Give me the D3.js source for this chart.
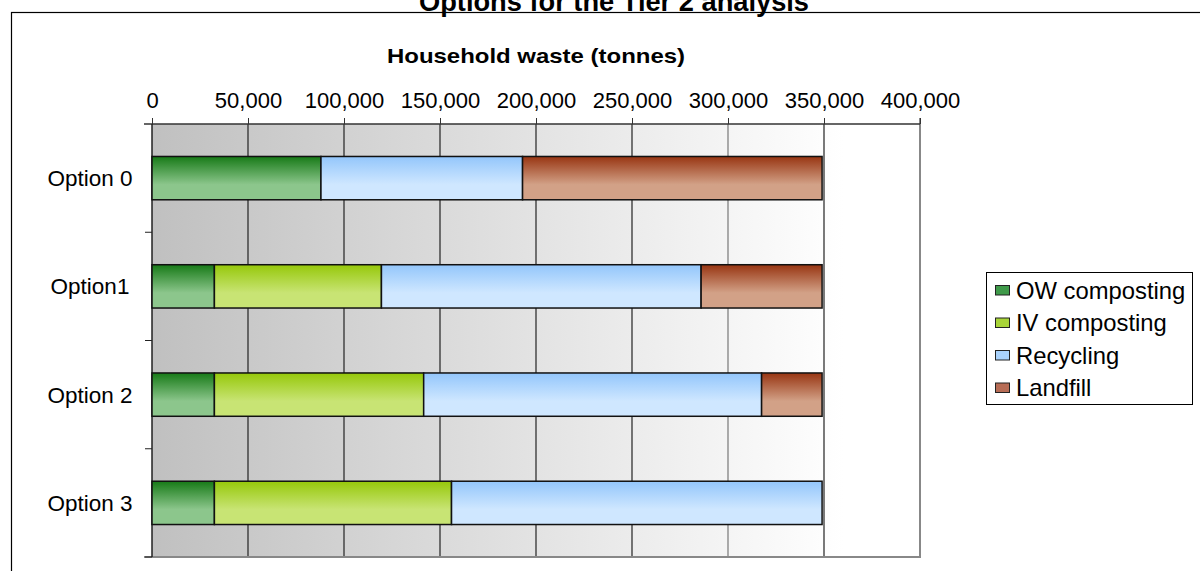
<!DOCTYPE html>
<html><head><meta charset="utf-8">
<script src="https://cdn.jsdelivr.net/npm/d3@7"></script>
<style>body{margin:0;background:#fff}svg{display:block;font-family:"Liberation Sans",Arial,sans-serif}</style>
</head><body>
<svg id="c" width="1200" height="571"></svg>
<script>
const categories = ["Option 0", "Option1", "Option 2", "Option 3"];
const seriesNames = ["OW composting", "IV composting", "Recycling", "Landfill"];
const owComposting = [88000, 32500, 32500, 32500];
const ivComposting = [0, 87000, 109000, 123500];
const recycling = [105000, 166500, 176000, 193000];
const landfill = [156000, 63000, 31500, 0];
const xTicks = [0, 50000, 100000, 150000, 200000, 250000, 300000, 350000, 400000];
const title = "Options for the Tier 2 analysis";
const axisTitle = "Household waste (tonnes)";

const colors = [
  {top:"#177a17", bot:"#8cc68c", sw:"#3f9a4a"},
  {top:"#96c80a", bot:"#c8e474", sw:"#a8d438"},
  {top:"#93c6fb", bot:"#cfe7ff", sw:"#a9d2fc"},
  {top:"#983512", bot:"#d2a187", sw:"#b76c55"}
];

const svg = d3.select("#c");
const defs = svg.append("defs");
const L = 152, R = 920, T = 124, B = 557;

const bg = defs.append("linearGradient").attr("id","bg").attr("x1",0).attr("x2",1).attr("y1",0).attr("y2",0);
bg.append("stop").attr("offset","0%").attr("stop-color","#c0c0c0");
bg.append("stop").attr("offset","90%").attr("stop-color","#ffffff");
colors.forEach((c,i)=>{
  const g = defs.append("linearGradient").attr("id","g"+i).attr("x1",0).attr("x2",0).attr("y1",0).attr("y2",1);
  g.append("stop").attr("offset","0%").attr("stop-color",c.top);
  g.append("stop").attr("offset","65%").attr("stop-color",c.bot);
  g.append("stop").attr("offset","100%").attr("stop-color",c.bot);
});

// outer frame
svg.append("rect").attr("x",11.5).attr("y",12.5).attr("width",1250).attr("height",600)
  .attr("fill","none").attr("stroke","#000").attr("stroke-width",1.2);
svg.append("text").attr("x",614).attr("y",11).attr("text-anchor","middle")
  .attr("font-size",27).attr("font-weight","bold")
  .attr("textLength",390).attr("lengthAdjust","spacingAndGlyphs").text(title);

const x = d3.scaleLinear().domain([0,400000]).range([L,R]);
const y = d3.scaleBand().domain(categories).range([T,B]).paddingInner(0.6).paddingOuter(0.3);
const yb = d3.scaleBand().domain(categories).range([T,B]);

svg.append("rect").attr("x",L).attr("y",T).attr("width",R-L).attr("height",B-T).attr("fill","url(#bg)");
// gridlines
svg.append("g").selectAll("line").data(xTicks.slice(1,-1)).join("line")
  .attr("x1",d=>x(d)).attr("x2",d=>x(d)).attr("y1",T).attr("y2",B)
  .attr("stroke",(d)=> d===300000 ? "#777" : "#222").attr("stroke-width",1.2);
svg.append("line").attr("x1",R).attr("x2",R).attr("y1",T-6).attr("y2",B+1).attr("stroke","#888").attr("stroke-width",2);
svg.append("line").attr("x1",L-8).attr("x2",R).attr("y1",B).attr("y2",B).attr("stroke","#888").attr("stroke-width",2);

// top axis
const ax = d3.axisTop(x).tickValues(xTicks).tickSize(6).tickPadding(10)
  .tickFormat(d=>d3.format(",")(d));
const axg = svg.append("g").attr("transform",`translate(0,${T})`).call(ax);
axg.select(".domain").attr("stroke","#333").attr("stroke-width",1.5).attr("d",`M${L-8},0H${R}`);
axg.selectAll(".tick line").attr("stroke","#333");
axg.selectAll("text").attr("font-size",22).attr("fill","#000").attr("font-family","Liberation Sans, Arial");
svg.append("text").attr("x",(L+R)/2).attr("y",63).attr("text-anchor","middle")
  .attr("font-size",21).attr("font-weight","bold")
  .attr("textLength",298).attr("lengthAdjust","spacingAndGlyphs").text(axisTitle);

// left axis
svg.append("line").attr("x1",L).attr("x2",L).attr("y1",T).attr("y2",B).attr("stroke","#222").attr("stroke-width",1.5);
svg.append("g").selectAll("line").data(categories).join("line")
  .attr("x1",L-7).attr("x2",L).attr("y1",d=>yb(d)+yb.bandwidth()).attr("y2",d=>yb(d)+yb.bandwidth())
  .attr("stroke","#222");
svg.append("g").selectAll("text").data(categories).join("text")
  .attr("x",90).attr("y",d=>y(d)+y.bandwidth()/2).attr("dy","0.36em").attr("text-anchor","middle")
  .attr("font-size",22.5).text(d=>d);

// stacked bars
const rows = categories.map((c,i)=>({cat:c, v:[owComposting[i], ivComposting[i], recycling[i], landfill[i]]}));
const stack = d3.stack().keys([0,1,2,3]).value((d,k)=>d.v[k]);
const layers = stack(rows);
layers.forEach((layer,k)=>{
  svg.append("g").selectAll("rect").data(layer.filter(d=>d[1]-d[0]>0)).join("rect")
    .attr("x",d=>x(d[0])).attr("width",d=>x(d[1])-x(d[0]))
    .attr("y",d=>y(d.data.cat)).attr("height",y.bandwidth())
    .attr("fill",`url(#g${k})`).attr("stroke","#111").attr("stroke-width",1.5);
});

// legend
const lg = svg.append("g");
lg.append("rect").attr("x",986.5).attr("y",272.5).attr("width",206).attr("height",132)
  .attr("fill","#fff").attr("stroke","#000");
seriesNames.forEach((n,i)=>{
  const yy = 290 + i*32.5;
  lg.append("rect").attr("x",995.5).attr("y",yy-4.5).attr("width",14).attr("height",9.5)
    .attr("fill",colors[i].sw).attr("stroke","#222");
  lg.append("text").attr("x",1016).attr("y",yy).attr("dy","0.36em").attr("font-size",23.8).text(n);
});
</script>
</body></html>
